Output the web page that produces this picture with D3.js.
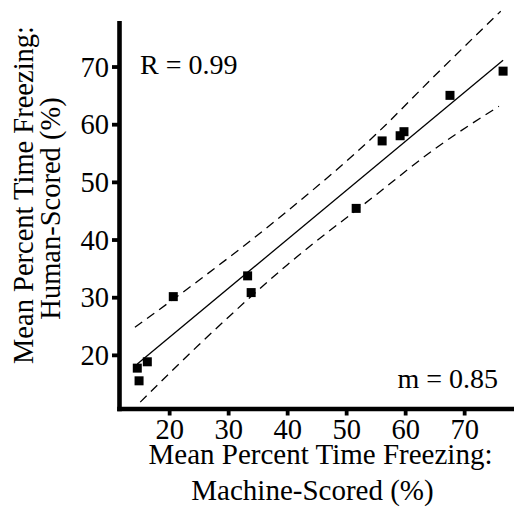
<!DOCTYPE html>
<html>
<head>
<meta charset="utf-8">
<script src="https://cdn.jsdelivr.net/npm/d3@7"></script>
<style>
  html, body { margin: 0; padding: 0; background: #fff; }
  svg { display: block; }
  text { font-family: "Liberation Serif", "Times New Roman", serif; fill: #000; }
</style>
</head>
<body>
<svg id="chart" width="514" height="510"></svg>
<script>
// ---- data ----
const machineScored = [14.6, 14.9, 16.3, 20.7, 33.3, 33.9, 51.7, 56.1, 59.15, 59.8, 67.6, 76.6];
const humanScored   = [17.7, 15.5, 18.8, 30.1, 33.7, 30.8, 45.4, 57.1, 58.0, 58.7, 65.0, 69.2];
const fitX = [14.6, 76.6];
const fitY = [18.4, 71.1];
const upperBandX = [14.2, 25, 40, 55, 65, 76.2];
const upperBandY = [24.8, 32.9, 44.9, 58.2, 68.4, 79.6];
const lowerBandX = [15.1, 25, 40, 55, 65, 75.9];
const lowerBandY = [11.8, 21.7, 35.6, 47.7, 55.7, 63.1];
const xTicks = [20, 30, 40, 50, 60, 70];
const yTicks = [20, 30, 40, 50, 60, 70];
const rLabel = "R = 0.99";
const mLabel = "m = 0.85";
const xTitle = ["Mean Percent Time Freezing:", "Machine-Scored (%)"];
const yTitle = ["Mean Percent Time Freezing:", "Human-Scored (%)"];

// ---- scales ----
const svg = d3.select("#chart");
const x = d3.scaleLinear().domain([11.5, 78.5]).range([119, 514.3]);
const y = d3.scaleLinear().domain([10.7, 77.6]).range([408.5, 22.7]);

// ---- axes ----
const xAxis = svg.append("g")
  .attr("transform", `translate(0,${y(10.7)})`)
  .call(d3.axisBottom(x).tickValues(xTicks).tickSize(7).tickSizeOuter(0).tickPadding(3));
xAxis.select(".domain").attr("stroke", "#000").attr("stroke-width", 4.6).attr("stroke-linecap", "square");
xAxis.selectAll(".tick line").attr("stroke", "#000").attr("stroke-width", 3.8);
xAxis.selectAll(".tick text")
  .attr("y", 30.5).attr("dy", null)
  .style("font-size", "28.5px").style("font-family", "'Liberation Serif', serif").attr("fill", "#000");

const yAxis = svg.append("g")
  .attr("transform", `translate(${x(11.5)},0)`)
  .call(d3.axisLeft(y).tickValues(yTicks).tickSize(7).tickSizeOuter(0).tickPadding(3));
yAxis.select(".domain").attr("stroke", "#000").attr("stroke-width", 4.6).attr("stroke-linecap", "square");
yAxis.selectAll(".tick line").attr("stroke", "#000").attr("stroke-width", 3.8);
yAxis.selectAll(".tick text")
  .attr("dy", "0.34em")
  .style("font-size", "28.5px").style("font-family", "'Liberation Serif', serif").attr("fill", "#000");

// ---- confidence bands ----
const bandLine = d3.line().x(d => x(d[0])).y(d => y(d[1])).curve(d3.curveMonotoneX);
svg.append("path")
  .datum(d3.zip(upperBandX, upperBandY))
  .attr("d", bandLine)
  .attr("fill", "none").attr("stroke", "#000").attr("stroke-width", 1.3)
  .attr("stroke-dasharray", "9,6");
svg.append("path")
  .datum(d3.zip(lowerBandX, lowerBandY))
  .attr("d", bandLine)
  .attr("fill", "none").attr("stroke", "#000").attr("stroke-width", 1.3)
  .attr("stroke-dasharray", "9,6");

// ---- fit line ----
svg.append("path")
  .datum(d3.zip(fitX, fitY))
  .attr("d", d3.line().x(d => x(d[0])).y(d => y(d[1])))
  .attr("fill", "none").attr("stroke", "#000").attr("stroke-width", 1.3);

// ---- points ----
const sq = 9;
svg.append("g").selectAll("rect")
  .data(d3.zip(machineScored, humanScored))
  .join("rect")
  .attr("x", d => x(d[0]) - sq / 2)
  .attr("y", d => y(d[1]) - sq / 2)
  .attr("width", sq).attr("height", sq)
  .attr("fill", "#000");

// ---- annotations ----
svg.append("text").attr("x", 140).attr("y", 74)
  .style("font-size", "28px").text(rLabel);
svg.append("text").attr("x", 498).attr("y", 388).attr("text-anchor", "end")
  .style("font-size", "28px").text(mLabel);

// ---- axis titles ----
svg.append("text").attr("x", 320.5).attr("y", 464).attr("text-anchor", "middle")
  .style("font-size", "29px").text(xTitle[0]);
svg.append("text").attr("x", 312.5).attr("y", 500).attr("text-anchor", "middle")
  .style("font-size", "29px").text(xTitle[1]);

svg.append("text").attr("transform", "translate(33,195) rotate(-90)").attr("text-anchor", "middle")
  .style("font-size", "28.5px").text(yTitle[0]);
svg.append("text").attr("transform", "translate(59.5,208.5) rotate(-90)").attr("text-anchor", "middle")
  .style("font-size", "28.5px").text(yTitle[1]);
</script>
</body>
</html>
